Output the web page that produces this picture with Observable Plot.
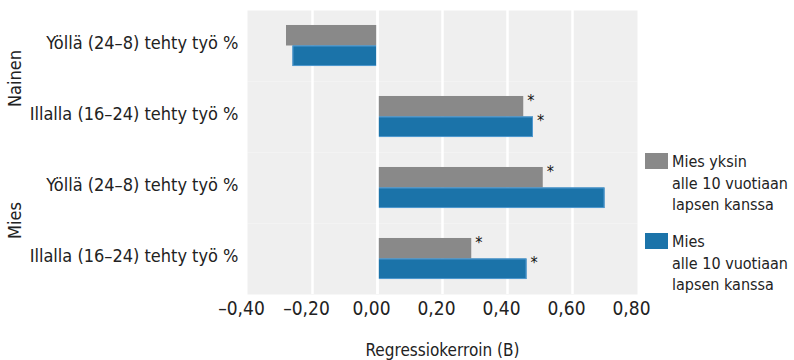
<!DOCTYPE html>
<html lang="fi">
<head>
<meta charset="utf-8">
<script src="https://cdn.jsdelivr.net/npm/d3@7"></script>
<script src="https://cdn.jsdelivr.net/npm/@observablehq/plot@0.6"></script>
<style>
  html, body { margin: 0; padding: 0; background: #fff; }
  #wrap { position: relative; width: 794px; height: 360px; font-family: "DejaVu Sans Condensed", "Liberation Sans", sans-serif; color: #222; }
  .legend-item { position: absolute; left: 645px; }
  .legend-item .sw { position: absolute; left: 0; width: 23px; height: 16px; }
  .legend-item .tx { position: absolute; left: 27px; top: 0; font-size: 16px; line-height: 21.5px; white-space: nowrap; }
</style>
</head>
<body>
<div id="wrap"></div>
<script>
// Row categories, grouped by sex
const groups = ["Nainen", "Nainen", "Mies", "Mies"];
const rows = [
  "Yöllä (24–8) tehty työ %",
  "Illalla (16–24) tehty työ %",
  "Yöllä (24–8) tehty työ %",
  "Illalla (16–24) tehty työ %"
];

// Series
const seriesNames = [
  "Mies yksin alle 10 vuotiaan lapsen kanssa",
  "Mies alle 10 vuotiaan lapsen kanssa"
];
const seriesLegendLines = [
  ["Mies yksin", "alle 10 vuotiaan", "lapsen kanssa"],
  ["Mies", "alle 10 vuotiaan", "lapsen kanssa"]
];
const seriesColors = ["#898989", "#1b73a9"];

// Regression coefficients (B) per row
const aloneValues = [-0.28, 0.45, 0.51, 0.29];
const withValues = [-0.26, 0.48, 0.70, 0.46];

// Statistical significance markers (*)
const aloneSignificant = [false, true, true, true];
const withSignificant = [false, true, false, true];

// X axis ticks
const xTicks = [-0.4, -0.2, 0, 0.2, 0.4, 0.6, 0.8];
const xLabel = "Regressiokerroin (B)";

// Build the long table used by the marks
const keys = rows.map((r, i) => `${groups[i]}|${r}`);
const table = [];
rows.forEach((r, i) => {
  table.push({key: keys[i], series: seriesNames[0], value: aloneValues[i], sig: aloneSignificant[i]});
  table.push({key: keys[i], series: seriesNames[1], value: withValues[i], sig: withSignificant[i]});
});
const groupLabels = [
  {key: keys[0], label: groups[0]},
  {key: keys[2], label: groups[2]}
];

const fmt = d => (Math.abs(d) < 1e-9 ? 0 : d).toFixed(2).replace(".", ",").replace("-", "–");
const FONT = '"DejaVu Sans Condensed", "Liberation Sans", sans-serif';

const chart = Plot.plot({
  width: 794,
  height: 360,
  marginLeft: 247,
  marginRight: 157,
  marginTop: 10,
  marginBottom: 66,
  style: {fontFamily: FONT, fontSize: "18px", color: "#222", background: "white"},
  x: {domain: [-0.4, 0.8]},
  y: {domain: seriesNames, paddingInner: 0, paddingOuter: 0.73, round: false, axis: null},
  fy: {domain: keys, padding: 0, round: true, axis: null},
  color: {domain: seriesNames, range: seriesColors},
  marks: [
    Plot.frame({fill: "#efefef", stroke: "none"}),
    Plot.ruleX(xTicks.slice(1, -1), {stroke: "white", strokeWidth: 2.5}),
    Plot.barX(table, {x: "value", y: "series", fy: "key", fill: "series"}),
    Plot.barX(table.filter(d => d.series === seriesNames[1]), {
      x: "value", y: "series", fy: "key", fill: "none", stroke: "#4f98cf", strokeWidth: 1, inset: 0.5
    }),
    Plot.ruleX([0], {stroke: "white", strokeWidth: 2.6}),
    Plot.text(table.filter(d => d.sig), {
      x: "value", y: "series", fy: "key", text: () => "*",
      dx: 7, dy: -6, fontSize: 16, textAnchor: "middle", fill: "#111"
    }),
    Plot.axisFy({
      anchor: "left", tickSize: 0, tickPadding: 9, dy: -3, fontSize: 18,
      tickFormat: k => k.split("|")[1], label: null
    }),
    Plot.text(groupLabels, {
      fy: "key", text: "label", frameAnchor: "bottom-left",
      textAnchor: "middle", lineAnchor: "middle",
      rotate: -90, dx: -232, dy: -3, fontSize: 18, fill: "#222"
    }),
    Plot.axisX({
      ticks: xTicks, tickFormat: fmt, tickSize: 0, tickPadding: 7, dx: -6, fontSize: 19,
      label: null
    }),
    Plot.axisX({
      ticks: [], tickSize: 0, dx: -9, fontSize: 17,
      label: xLabel, labelAnchor: "center", labelArrow: "none", labelOffset: 61
    })
  ]
});

const wrap = document.getElementById("wrap");
wrap.appendChild(chart);

// Legend on the right
const legendTops = [151, 231];
seriesNames.forEach((name, i) => {
  const item = document.createElement("div");
  item.className = "legend-item";
  item.style.top = legendTops[i] + "px";
  const sw = document.createElement("div");
  sw.className = "sw";
  sw.style.top = "2px";
  sw.style.background = seriesColors[i];
  const tx = document.createElement("div");
  tx.className = "tx";
  tx.innerHTML = seriesLegendLines[i].join("<br>");
  item.appendChild(sw);
  item.appendChild(tx);
  wrap.appendChild(item);
});
</script>
</body>
</html>
